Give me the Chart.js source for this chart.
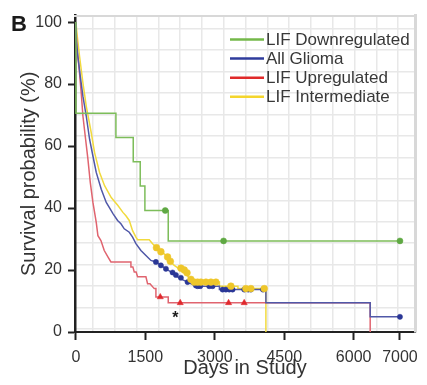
<!DOCTYPE html>
<html><head><meta charset="utf-8">
<script src="https://cdn.jsdelivr.net/npm/chart.js@4"></script>
<style>html,body{margin:0;padding:0;background:#fff}canvas{display:block}</style>
</head><body>
<canvas id="c" width="427" height="385"></canvas>
<script>
// ---- data (curve vertices: day, survival %) ----
const groupLabels = ['LIF Downregulated', 'All Glioma', 'LIF Upregulated', 'LIF Intermediate'];
const xTickValues = [0, 1500, 3000, 4500, 6000, 7000];
const yTickValues = [0, 20, 40, 60, 80, 100];

const downDays = [0, 0, 864, 864, 1238, 1238, 1389, 1389, 1490, 1490, 1994, 1994, 7000];
const downSurv = [100, 70.6, 70.6, 62.8, 62.8, 54.9, 54.9, 47.1, 47.1, 39.2, 39.2, 29.4, 29.4];
const downCensorDays = [1929, 3190, 7000];
const downCensorSurv = [39.2, 29.4, 29.4];

const allDays = [0, 10, 43, 94, 151, 223, 295, 367, 439, 547, 655, 720, 800, 900, 972, 1044, 1152, 1224, 1296, 1404, 1512, 1620, 1728, 1836, 1944, 2052, 2120, 2196, 2300, 2412, 2556, 2628, 3100, 3100, 4104, 4104, 6357, 6357, 7000];
const allSurv = [100, 94, 88.9, 82.5, 76.1, 69.7, 62.2, 56.8, 51.5, 46.1, 41.8, 40.2, 38.2, 36, 34.9, 33.3, 32.2, 30.6, 28.5, 26.3, 24.7, 23.1, 22.6, 21.5, 20.4, 19.4, 18.8, 17.8, 16.9, 16.1, 15.1, 14.8, 14.8, 13.7, 13.7, 9.4, 9.4, 4.9, 4.9];
const allCensorDays = [1728, 1836, 1944, 2088, 2160, 2268, 2412, 2592, 2628, 2685, 2880, 2952, 3168, 3240, 3312, 3384, 3636, 3722, 3780, 4040, 7000];
const allCensorSurv = [22.6, 21.5, 20.4, 19.2, 18.4, 17.5, 16.1, 15.0, 14.8, 14.8, 14.8, 14.8, 13.7, 13.7, 13.7, 13.7, 13.7, 13.7, 13.7, 13.7, 4.9];

const upDays = [0, 22, 65, 115, 151, 209, 259, 310, 367, 439, 475, 540, 612, 700, 756, 1188, 1188, 1230, 1260, 1300, 1332, 1512, 1548, 1600, 1692, 1728, 1728, 1994, 1994, 6357, 6357];
const upSurv = [100, 91, 85.7, 77.1, 69.7, 62.2, 55.8, 48.3, 41.8, 35.4, 31.1, 29.5, 26.3, 24, 22.6, 22.6, 21, 21, 19.4, 19.4, 17.8, 17.8, 15.6, 15.6, 14, 14, 11.3, 11.3, 9.4, 9.4, 0];
const upCensorDays = [1822, 2253, 3298, 3635];
const upCensorSurv = [11.3, 9.4, 9.4, 9.4];

const midDays = [0, 22, 79, 151, 223, 331, 403, 511, 619, 763, 907, 1015, 1080, 1152, 1224, 1296, 1332, 1584, 1656, 1728, 1790, 1900, 1980, 2016, 2124, 2232, 2300, 2380, 2450, 2530, 3100, 3100, 3500, 3500, 4104, 4104];
const midSurv = [100, 96.4, 88.9, 80.4, 72.9, 64.3, 57.9, 51.5, 47.2, 43.4, 40.8, 38.6, 37.5, 36, 32.7, 30.6, 29.8, 29.8, 28.5, 27.4, 26.3, 25.3, 24.2, 23.1, 21.5, 20.4, 19.9, 19, 17.2, 16.1, 16.1, 14.8, 14.8, 14, 14, 0];
const midCensorDays = [1740, 1836, 1980, 2040, 2268, 2340, 2400, 2484, 2556, 2628, 2700, 2808, 2916, 3024, 3348, 3670, 3780, 4068];
const midCensorSurv = [27.2, 25.9, 24.2, 22.8, 20.6, 20.0, 19.1, 17.0, 16.1, 16.1, 16.1, 16.1, 16.1, 16.1, 14.8, 14, 14, 14];

const starDay = 2150;
const starSurv = 5.8;

// ---- styling ----
const FONT = '"Liberation Sans", Arial, Helvetica, sans-serif';
const lineColors = ['#7dbd5a', '#5058a8', '#e0646f', '#f1da3e'];
const legendColors = ['#74b84a', '#2f3c9c', '#e02a2a', '#f4d52c'];
const censorColors = ['#5fa843', '#2a3796', '#e0282c', '#eec62a'];
const censorStyles = ['circle', 'circle', 'triangle', 'circle'];
const censorRadius = [3, 2.6, 3.6, 3.4];
const drawOrder = [5, 6, 7, 8];

const zip = (xs, ys) => xs.map((x, i) => ({x: x, y: ys[i]}));
const curves = [[downDays, downSurv], [allDays, allSurv], [upDays, upSurv], [midDays, midSurv]];
const censors = [[downCensorDays, downCensorSurv], [allCensorDays, allCensorSurv], [upCensorDays, upCensorSurv], [midCensorDays, midCensorSurv]];

const datasets = [];
curves.forEach((c, i) => {
  datasets.push({
    type: 'line', label: groupLabels[i], data: zip(c[0], c[1]),
    xAxisID: 'x', yAxisID: 'y',
    borderColor: lineColors[i], borderWidth: 1.5, pointRadius: 0, fill: false, tension: 0,
    borderJoinStyle: 'miter', order: drawOrder[i]
  });
});
censors.forEach((c, i) => {
  datasets.push({
    type: 'line', label: groupLabels[i] + ' censored', data: zip(c[0], c[1]),
    xAxisID: 'x', yAxisID: 'y', showLine: false,
    pointStyle: censorStyles[i], pointRadius: censorRadius[i],
    pointBackgroundColor: censorColors[i], pointBorderColor: censorColors[i], pointBorderWidth: 0.5,
    order: 4 - i
  });
});

const X_MIN = -20, X_MAX = 7325, Y_MIN = 0, Y_MAX = 102.1;

const decor = {
  id: 'decor',
  afterDraw(chart) {
    const ctx = chart.ctx;
    const xs = chart.scales.x, ys = chart.scales.y;
    ctx.save();
    ctx.font = '17px ' + FONT;
    ctx.textBaseline = 'middle';
    ctx.textAlign = 'left';
    groupLabels.forEach((lab, i) => {
      const y = 39.5 + i * 19.1;
      ctx.strokeStyle = legendColors[i];
      ctx.lineWidth = 2.5;
      ctx.beginPath(); ctx.moveTo(230, y); ctx.lineTo(264, y); ctx.stroke();
      ctx.fillStyle = '#383838';
      ctx.fillText(lab, 266, y + 0.5);
    });
    ctx.font = 'bold 22px ' + FONT;
    ctx.textBaseline = 'alphabetic';
    ctx.fillStyle = '#1a1a1a';
    ctx.fillText('B', 11, 31);
    ctx.font = 'bold 16px ' + FONT;
    ctx.textAlign = 'center';
    ctx.fillText('*', xs.getPixelForValue(starDay), ys.getPixelForValue(starSurv) + 9);
    ctx.restore();
  }
};

new Chart(document.getElementById('c'), {
  type: 'line',
  data: {datasets: datasets},
  options: {
    responsive: false, animation: false,
    layout: {padding: {top: 14, right: 12, left: 0, bottom: 0}},
    plugins: {legend: {display: false}, tooltip: {enabled: false}},
    scales: {
      x: {
        type: 'linear', position: 'bottom', min: X_MIN, max: X_MAX,
        afterBuildTicks: s => { s.ticks = xTickValues.map(v => ({value: v})); },
        afterFit: s => { s.height = 53; },
        ticks: {color: '#333', font: {size: 16, family: FONT}, padding: 8, maxRotation: 0, autoSkip: false, callback: v => String(v)},
        grid: {display: true, drawOnChartArea: false, drawTicks: true, tickLength: 8, tickWidth: 2, tickColor: '#222'},
        border: {display: true, color: '#222', width: 2},
        title: {display: true, text: 'Days in Study', color: '#333', font: {size: 20, family: FONT}, padding: {top: 0, bottom: 5}}
      },
      y: {
        type: 'linear', position: 'left', min: Y_MIN, max: Y_MAX,
        afterBuildTicks: s => { s.ticks = yTickValues.map(v => ({value: v})); },
        afterFit: s => { s.width = 75; },
        ticks: {color: '#333', font: {size: 16, family: FONT}, padding: 6, callback: v => String(v)},
        grid: {display: true, drawOnChartArea: false, drawTicks: true, tickLength: 7, tickWidth: 2, tickColor: '#222'},
        border: {display: true, color: '#222', width: 2.5},
        title: {display: true, text: 'Survival probability (%)', color: '#333', font: {size: 20, family: FONT}, padding: {top: 17, bottom: 0}}
      },
      xg: {
        type: 'linear', axis: 'x', position: 'top', min: X_MIN, max: X_MAX,
        afterBuildTicks: s => { const t = []; for (let v = 367; v < X_MAX; v += 471) t.push({value: v}); s.ticks = t; },
        afterFit: s => { s.height = 0; },
        ticks: {display: false},
        grid: {display: true, drawTicks: false, color: '#e8e8e8', lineWidth: 1.5},
        border: {display: true, color: '#d8d8d8', width: 2}
      },
      yg: {
        type: 'linear', axis: 'y', position: 'right', min: Y_MIN, max: Y_MAX,
        afterBuildTicks: s => { const t = []; for (let v = 0.93; v < Y_MAX; v += 6.93) t.push({value: v}); s.ticks = t; },
        afterFit: s => { s.width = 0; },
        ticks: {display: false},
        grid: {display: true, drawTicks: false, color: '#e8e8e8', lineWidth: 1.5},
        border: {display: true, color: '#d8d8d8', width: 3}
      }
    }
  },
  plugins: [decor]
});
</script>
</body></html>
